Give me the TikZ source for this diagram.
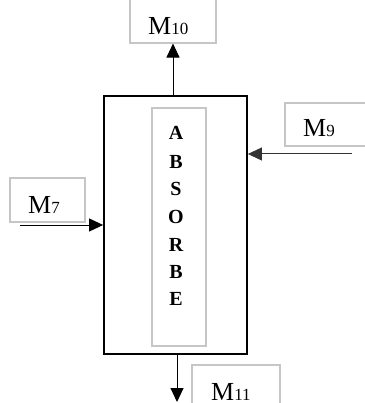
\documentclass[tikz,border=0pt]{standalone}
\usepackage{fontspec}
\setmainfont{Liberation Serif}
\usetikzlibrary{arrows.meta}
\begin{document}
\begin{tikzpicture}[x=1pt,y=-1pt,
  graybox/.style={draw=gray!45,line width=1.1pt,inner sep=0pt},
  mainbox/.style={draw=black,line width=1.8pt,inner sep=0pt},
  flow/.style={line width=1pt,-{Triangle[length=14pt,width=13pt]}},
  lbl/.style={anchor=base west,inner sep=0pt,font=\fontsize{26}{26}\selectfont},
  letter/.style={anchor=base,inner sep=0pt,font=\fontsize{20}{20}\selectfont\bfseries}]
\useasboundingbox (0,0) rectangle (364,403);
% main absorber box
\node[mainbox,minimum width=143pt,minimum height=258pt] (main) at (175.5,225) {};
\node[graybox,minimum width=54pt,minimum height=238pt] (inner) at (179,227) {};
\foreach \l/\y [count=\i] in {A/140,B/168,S/195,O/223,R/251,B/278,E/305}
  \node[letter] (l\i) at (176,\y) {\l};
% stream boxes
\node[graybox,minimum width=86pt,minimum height=46pt] (m10) at (173,20) {};
\node[graybox,minimum width=90pt,minimum height=43pt] (m9) at (330,124.5) {};
\node[graybox,minimum width=75pt,minimum height=44pt] (m7) at (47.5,200) {};
\node[graybox,minimum width=88pt,minimum height=60pt] (m11) at (236,395) {};
% labels
\node[lbl] (t10) at (148,35) {M\fontsize{17}{17}\selectfont10};
\node[lbl] (t9) at (303,137) {M\fontsize{17}{17}\selectfont9};
\node[lbl] (t7) at (28,213) {M\fontsize{17}{17}\selectfont7};
\node[lbl] (t11) at (211,400) {M\fontsize{17}{17}\selectfont11};
% stream ends
\coordinate (in9) at (352,154);
\coordinate (in7) at (20,225);
\coordinate (out11) at (177,402);
% connectors
\draw[flow] (main.north -| m10.south) -- (m10.south);
\draw[flow,draw=black!80] (in9) -- (main.east |- in9);
\draw[flow] (in7) -- (main.west |- in7);
\draw[flow] (main.south -| out11) -- (out11);
\end{tikzpicture}
\end{document}
